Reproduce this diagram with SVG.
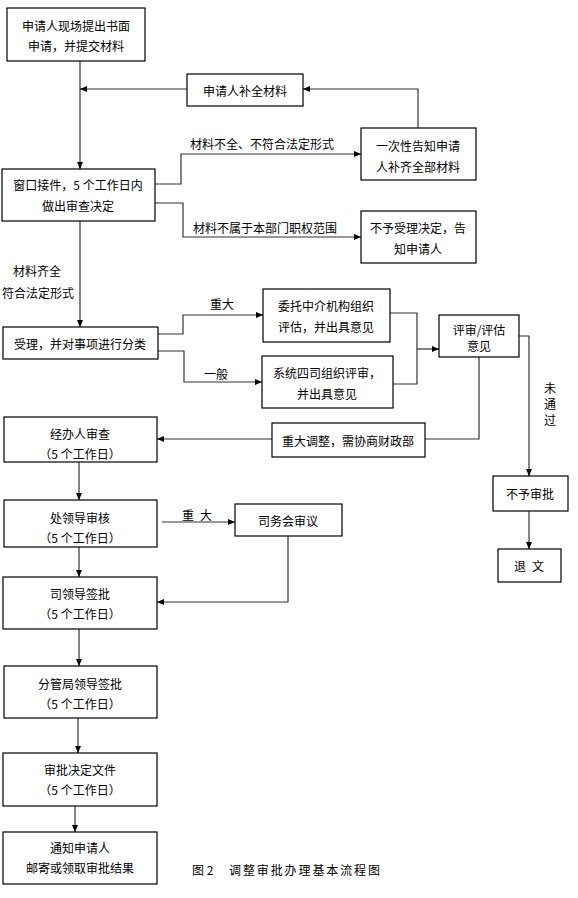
<svg xmlns="http://www.w3.org/2000/svg" width="578" height="898" viewBox="0 0 578 898">
<defs>
<marker id="ah" markerWidth="7" markerHeight="6" refX="7" refY="3" orient="auto" markerUnits="userSpaceOnUse">
<path d="M0,0 L7,3 L0,6 Z" fill="#000"/>
</marker>
<style>
rect{fill:#fff;stroke:#000;stroke-width:1.2}
text{font-family:"Noto Sans CJK SC","Liberation Sans",sans-serif;font-size:12px;fill:#000;text-anchor:middle;dominant-baseline:central}
.c path{fill:none;stroke:#333;stroke-width:1.2}
.l{text-anchor:start}
</style>
</defs>
<rect width="578" height="898" style="fill:#fff;stroke:none"/>
<g class="c">
<path d="M80,61 V169" marker-end="url(#ah)"/>
<path d="M187,89 H80" marker-end="url(#ah)"/>
<path d="M418,128 V89 H303" marker-end="url(#ah)"/>
<path d="M155,184 H181 V154 H361" marker-end="url(#ah)"/>
<path d="M155,203 H183 V237 H361" marker-end="url(#ah)"/>
<path d="M80,221 V327" marker-end="url(#ah)"/>
<path d="M158,334 H183 V315 H263" marker-end="url(#ah)"/>
<path d="M158,351 H184 V382 H262" marker-end="url(#ah)"/>
<path d="M390,313 H417 V384 H393"/>
<path d="M417,349 H439" marker-end="url(#ah)"/>
<path d="M519,336 H529 V476" marker-end="url(#ah)"/>
<path d="M479,357 V439 H425"/>
<path d="M272,439 H157" marker-end="url(#ah)"/>
<path d="M79,462 V500" marker-end="url(#ah)"/>
<path d="M162,522 H235" marker-end="url(#ah)"/>
<path d="M288,536 V602 H157" marker-end="url(#ah)"/>
<path d="M79,547 V577" marker-end="url(#ah)"/>
<path d="M79,629 V666" marker-end="url(#ah)"/>
<path d="M78,718 V753" marker-end="url(#ah)"/>
<path d="M75,806 V832" marker-end="url(#ah)"/>
<path d="M529,511 V549" marker-end="url(#ah)"/>
</g>
<g id="labels">
<text x="262" y="143">材料不全、不符合法定形式</text>
<text x="265" y="227">材料不属于本部门职权范围</text>
<text x="37" y="270">材料齐全</text>
<text x="38" y="292">符合法定形式</text>
<text x="222" y="303">重大</text>
<text x="216" y="373">一般</text>
<text x="550" y="387">未</text>
<text x="550" y="403">通</text>
<text x="550" y="419">过</text>
<text x="188" y="514">重</text><text x="206" y="514">大</text>
</g>
<g id="n1"><rect x="7" y="8" width="138" height="53"/><text x="76" y="25">申请人现场提出书面</text><text x="76" y="45">申请，并提交材料</text></g>
<g id="n2"><rect x="187" y="74" width="116" height="32"/><text x="245" y="90">申请人补全材料</text></g>
<g id="n3"><rect x="361" y="128" width="115" height="52"/><text x="418" y="145">一次性告知申请</text><text x="418" y="166">人补齐全部材料</text></g>
<g id="n4"><rect x="2" y="169" width="153" height="52"/><text x="78" y="184">窗口接件，5 个工作日内</text><text x="78" y="205">做出审查决定</text></g>
<g id="n5"><rect x="361" y="211" width="115" height="52"/><text x="418" y="227">不予受理决定，告</text><text x="418" y="248">知申请人</text></g>
<g id="n6"><rect x="3" y="327" width="155" height="32"/><text x="80" y="343">受理，并对事项进行分类</text></g>
<g id="n7"><rect x="263" y="289" width="127" height="53"/><text x="326" y="305">委托中介机构组织</text><text x="326" y="326">评估，并出具意见</text></g>
<g id="n8"><rect x="262" y="356" width="131" height="52"/><text x="327" y="372">系统四司组织评审，</text><text x="327" y="393">并出具意见</text></g>
<g id="n9"><rect x="439" y="315" width="80" height="42"/><text x="479" y="329">评审/评估</text><text x="479" y="345">意见</text></g>
<g id="n10"><rect x="272" y="423" width="153" height="34"/><text x="348" y="440">重大调整，需协商财政部</text></g>
<g id="n11"><rect x="4" y="417" width="153" height="45"/><text x="80" y="433">经办人审查</text><text x="80" y="453">（5 个工作日）</text></g>
<g id="n12"><rect x="4" y="500" width="153" height="47"/><text x="80" y="517">处领导审核</text><text x="80" y="537">（5 个工作日）</text></g>
<g id="n13"><rect x="235" y="504" width="107" height="32"/><text x="288" y="520">司务会审议</text></g>
<g id="n14"><rect x="493" y="476" width="75" height="35"/><text x="530" y="493">不予审批</text></g>
<g id="n15"><rect x="498" y="549" width="63" height="33"/><text x="520" y="565">退</text><text x="538" y="565">文</text></g>
<g id="n16"><rect x="3" y="577" width="154" height="52"/><text x="80" y="593">司领导签批</text><text x="80" y="613">（5 个工作日）</text></g>
<g id="n17"><rect x="4" y="666" width="153" height="52"/><text x="80" y="683">分管局领导签批</text><text x="80" y="703">（5 个工作日）</text></g>
<g id="n18"><rect x="3" y="753" width="154" height="53"/><text x="80" y="769">审批决定文件</text><text x="80" y="789">（5 个工作日）</text></g>
<g id="n19"><rect x="3" y="832" width="154" height="52"/><text x="80" y="847">通知申请人</text><text x="80" y="867">邮寄或领取审批结果</text></g>
<g id="caption"><text class="l" x="192" y="869">图 2</text><text class="l" x="229" y="869" textLength="151" lengthAdjust="spacing">调整审批办理基本流程图</text></g>
</svg>
